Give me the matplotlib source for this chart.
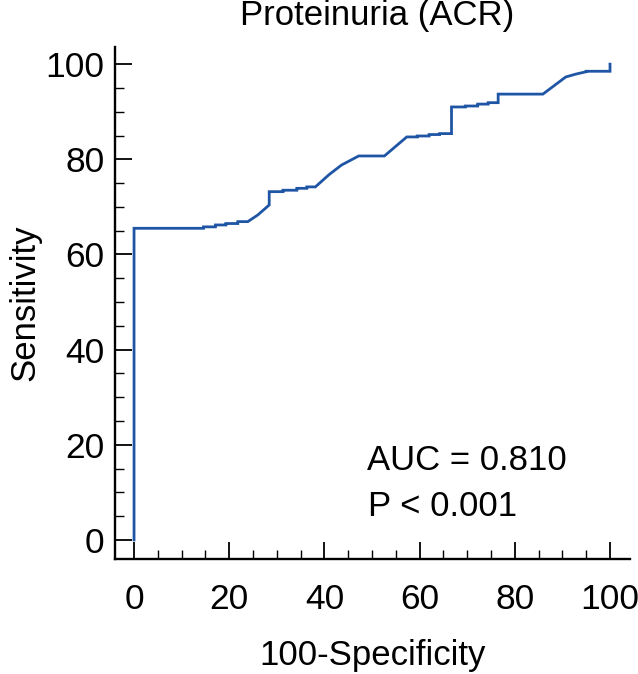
import matplotlib
matplotlib.use("Agg")
import matplotlib.pyplot as plt
from matplotlib.ticker import MultipleLocator

# ROC curve vertices (100-Specificity, Sensitivity)
fpr = [0, 0, 14.6, 14.6, 17.1, 17.1, 19.3, 19.3, 21.8, 21.8, 23.9, 26.0, 28.4, 28.4,
       31.3, 31.3, 34.2, 34.2, 36.3, 36.3, 38.1, 41.0, 43.6, 47.2, 52.6, 57.3,
       59.5, 59.5, 62.0, 62.0, 64.2, 64.2, 66.7, 66.7, 69.6, 69.6, 72.2, 72.2,
       74.4, 74.4, 76.5, 76.5, 85.9, 90.7, 92.8, 95.0, 95.0, 100, 100]
tpr = [0, 65.5, 65.5, 65.8, 65.8, 66.2, 66.2, 66.5, 66.5, 66.9, 66.9, 68.3, 70.4, 73.2,
       73.2, 73.5, 73.5, 73.9, 73.9, 74.2, 74.2, 76.8, 78.8, 80.7, 80.7, 84.7,
       84.7, 84.9, 84.9, 85.2, 85.2, 85.4, 85.4, 91.0, 91.0, 91.2, 91.2, 91.6,
       91.6, 91.9, 91.9, 93.7, 93.7, 97.3, 97.9, 98.4, 98.5, 98.5, 100]

title = "Proteinuria (ACR)"
auc_text = "AUC = 0.810"
p_text = "P < 0.001"
xticks = [0, 20, 40, 60, 80, 100]
yticks = [0, 20, 40, 60, 80, 100]

plt.rcParams['font.family'] = ['Liberation Sans', 'DejaVu Sans']

fig = plt.figure(figsize=(6.38, 6.74), dpi=100)
ax = fig.add_axes([115 / 638, 1 - 559 / 674, 515 / 638, 512 / 674])

ax.plot(fpr, tpr, color='#1f55a5', lw=2.0, solid_joinstyle='miter')

ax.set_xlim(-4.0, 104.2)
ax.set_ylim(-4.0, 103.6)
ax.set_xticks(xticks)
ax.set_yticks(yticks)
ax.xaxis.set_minor_locator(MultipleLocator(5))
ax.yaxis.set_minor_locator(MultipleLocator(5))

for side in ['top', 'right']:
    ax.spines[side].set_visible(False)
for side in ['left', 'bottom']:
    ax.spines[side].set_linewidth(1.7)

ax.tick_params(which='major', direction='in', length=12, width=1.3, labelsize=25.5, colors='black')
ax.tick_params(which='minor', direction='in', length=6.5, width=1.0)
ax.tick_params(axis='x', which='major', pad=17)
ax.tick_params(axis='y', which='major', pad=7.5)

ax.set_xlabel("100-Specificity", fontsize=25, labelpad=17)
ax.set_ylabel("Sensitivity", fontsize=25, labelpad=3)

ax.text(48.9, 14.7, auc_text, fontsize=25, va='baseline', ha='left')
ax.text(49.2, 5.0, p_text, fontsize=25, va='baseline', ha='left')

fig.text(377 / 638, 1 - 25 / 674, title, fontsize=25, ha='center', va='baseline')

fig.savefig("out.png", dpi=100)
